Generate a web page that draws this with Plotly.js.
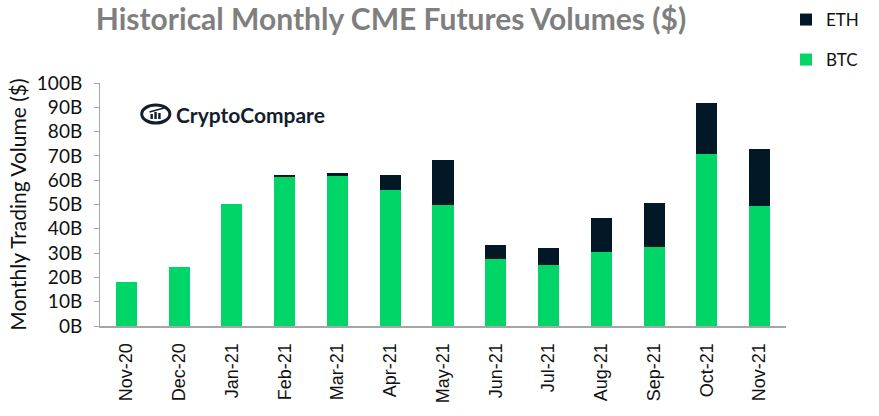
<!DOCTYPE html>
<html>
<head>
<meta charset="utf-8">
<script src="https://cdn.plot.ly/plotly-3.0.1.min.js"></script>
<style>html,body{margin:0;padding:0;background:#fff;}#chart{width:879px;height:416px;}</style>
</head>
<body>
<div id="chart"></div>
<script>
// Data (billions of USD)
const months = ['Nov-20','Dec-20','Jan-21','Feb-21','Mar-21','Apr-21','May-21','Jun-21','Jul-21','Aug-21','Sep-21','Oct-21','Nov-21'];
const btcVolume = [18.3, 24.2, 50.3, 61.2, 61.9, 55.9, 49.9, 27.6, 25.1, 30.5, 32.5, 70.8, 49.3];
const ethVolume = [0, 0, 0, 0.9, 1.2, 6.1, 18.6, 5.8, 6.9, 13.8, 18.3, 21.0, 23.5];
const yTickValues = [0,10,20,30,40,50,60,70,80,90,100];
const yTickLabels = ['0B','10B','20B','30B','40B','50B','60B','70B','80B','90B','100B'];

const W = 879, H = 416;
const M = {l:100, r:72, t:83, b:90};
const pw = W - M.l - M.r, ph = H - M.t - M.b;
const px = x => (x - M.l) / pw;
const py = y => (H - M.b - y) / ph;

const GREEN = '#00d568';
const NAVY = '#021826';
const LOGO = '#131d2c';

const traces = [
  {type:'bar', name:'BTC', x:months, y:btcVolume, marker:{color:GREEN, line:{width:0}}, legend:'legend2', hoverinfo:'y'},
  {type:'bar', name:'ETH', x:months, y:ethVolume, marker:{color:NAVY, line:{width:0}}, legend:'legend', hoverinfo:'y'}
];

const layout = {
  width: W, height: H,
  margin: M,
  paper_bgcolor:'#ffffff', plot_bgcolor:'#ffffff',
  barmode:'stack',
  bargap:0.6,
  font:{family:'Lato, "Liberation Sans", sans-serif', color:'#262626'},
  title:{
    text:'<b>Historical Monthly CME Futures Volumes ($)</b>',
    font:{family:'Lato, sans-serif', size:30, color:'#7f7f7f'},
    x:391/W, xref:'container', xanchor:'center',
    y:1 - 19/H, yref:'container', yanchor:'middle'
  },
  xaxis:{
    type:'category',
    tickangle:-90,
    tickfont:{family:'"Liberation Sans", Arial, sans-serif', size:18, color:'#111'},
    ticklabelstandoff:8,
    showline:true, linecolor:'#a6a6a6', linewidth:2,
    ticks:'', showgrid:false, zeroline:false,
    fixedrange:true
  },
  yaxis:{
    range:[0,100],
    tickmode:'array',
    tickvals:yTickValues,
    ticktext:yTickLabels,
    tickfont:{family:'Lato, sans-serif', size:19, color:'#111'},
    ticklabelstandoff:8,
    showline:true, linecolor:'#a6a6a6', linewidth:1,
    ticks:'outside', ticklen:5, tickcolor:'#a6a6a6',
    showgrid:false, zeroline:false,
    title:{text:'Monthly Trading Volume ($)', font:{family:'Lato, sans-serif', size:21, color:'#111'}, standoff:4},
    fixedrange:true
  },
  showlegend:true,
  legend:{
    xref:'container', yref:'container',
    x:786/W, y:1 - 20/H, xanchor:'left', yanchor:'middle',
    font:{family:'Lato, sans-serif', size:17, color:'#111'},
    itemwidth:30, bgcolor:'rgba(0,0,0,0)'
  },
  legend2:{
    xref:'container', yref:'container',
    x:786/W, y:1 - 60/H, xanchor:'left', yanchor:'middle',
    font:{family:'Lato, sans-serif', size:17, color:'#111'},
    itemwidth:30, bgcolor:'rgba(0,0,0,0)'
  },
  annotations:[
    {text:'<b>CryptoCompare</b>', xref:'paper', yref:'paper', x:px(176), y:py(114),
     xanchor:'left', yanchor:'middle', showarrow:false,
     font:{family:'Lato, sans-serif', size:21, color:LOGO}}
  ],
  shapes:[
    {type:'circle', xref:'paper', yref:'paper', x0:px(143), x1:px(172), y0:py(123), y1:py(105), line:{color:LOGO, width:3}},
    {type:'rect', xref:'paper', yref:'paper', x0:px(152), x1:px(154.5), y0:py(119), y1:py(114), fillcolor:LOGO, line:{width:0}},
    {type:'rect', xref:'paper', yref:'paper', x0:px(156), x1:px(158.5), y0:py(119), y1:py(112), fillcolor:LOGO, line:{width:0}},
    {type:'rect', xref:'paper', yref:'paper', x0:px(160), x1:px(162.5), y0:py(119), y1:py(113), fillcolor:LOGO, line:{width:0}},
    {type:'line', xref:'paper', yref:'paper', x0:px(151), x1:px(166), y0:py(112), y1:py(108), line:{color:LOGO, width:1.5}}
  ]
};

Plotly.newPlot('chart', traces, layout, {displayModeBar:false, staticPlot:true});
</script>
</body>
</html>
